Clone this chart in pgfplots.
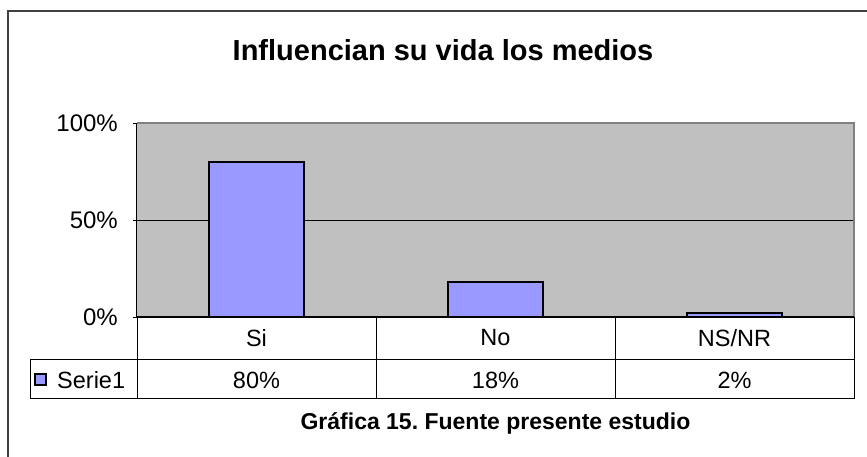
\documentclass[border=0pt]{standalone}
\usepackage{pgfplots}
\pgfplotsset{compat=1.18}
\usepackage{fontspec}
\setmainfont{Liberation Sans}
\definecolor{barblue}{HTML}{9999FF}
\definecolor{plotgray}{HTML}{C0C0C0}
\definecolor{bordergray}{HTML}{808080}
\definecolor{framegray}{HTML}{404040}
\frenchspacing
\begin{document}
\begin{tikzpicture}[x=1pt,y=1pt]
\clip (0,0) rectangle (867,457);
\fill[white] (0,0) rectangle (867,457);
% outer frame
\draw[framegray, line width=1.5pt] (8,-10) -- (8,446) -- (900,446);
% title
\node[font=\fontsize{29}{34}\selectfont\bfseries] at (443,407) {Influencian su vida los medios};
\begin{axis}[
  at={(137pt,140pt)}, anchor=south west,
  scale only axis, width=717pt, height=194pt,
  xmin=-0.5, xmax=2.5, ymin=0, ymax=100,
  ytick={0,50,100}, yticklabels={0\%,50\%,100\%},
  xtick=\empty, ytick pos=left,
  ymajorgrids, grid style={black, line width=0.8pt},
  tick align=outside, major tick length=4pt,
  tick style={black, line width=0.8pt},
  axis line style={draw=none},
  axis background/.style={fill=plotgray},
  yticklabel style={font=\fontsize{24}{28}\selectfont, inner sep=0pt, xshift=-15pt},
  /pgf/number format/assume math mode=true,
  clip=false,
]
\addplot[ybar, bar width=95pt, fill=barblue, draw=black, line width=1.5pt]
  coordinates {(0,80) (1,18) (2,2)};
\draw[bordergray, line width=1.2pt] (rel axis cs:0,1) -- (rel axis cs:1,1) -- (rel axis cs:1,0);
\draw[black, line width=1pt] (rel axis cs:0,0) -- (rel axis cs:0,1);
\draw[black, line width=1pt] (rel axis cs:0,0) -- (rel axis cs:1,0);
\end{axis}
% data table
\begin{scope}[line width=1pt]
\draw (137,140) -- (137,58);
\draw (376,140) -- (376,58);
\draw (615,140) -- (615,58);
\draw (854,140) -- (854,58);
\draw (30,97) -- (854,97);
\draw (30,58) -- (854,58);
\draw (30,97) -- (30,58);
\end{scope}
\begin{scope}[font=\fontsize{23.5}{28}\selectfont]
\node at (256.5,119) {Si};
\node at (495.5,119) {No};
\node at (734.5,119) {NS/NR};
\node at (256.5,77) {80\%};
\node at (495.5,77) {18\%};
\node at (734.5,77) {2\%};
\draw[fill=barblue, line width=1.3pt] (35,72) rectangle (46,83);
\node[anchor=west, inner sep=0pt] at (57,77) {Serie1};
\end{scope}
\node[font=\fontsize{23}{27}\selectfont\bfseries] at (495.5,34) {Gráfica 15. Fuente presente estudio};
\end{tikzpicture}
\end{document}
